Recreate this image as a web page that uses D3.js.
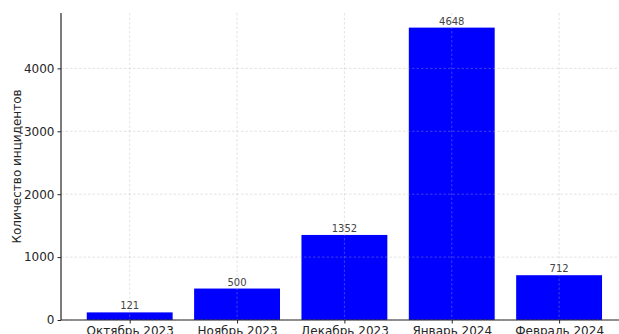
<!DOCTYPE html>
<html>
<head>
<meta charset="utf-8">
<style>
body { margin: 0; background: #fff; font-family: "DejaVu Sans", sans-serif; }
.axis text { fill: #262626; font-size: 12px; font-family: "DejaVu Sans", sans-serif; }
.axis .domain { stroke: #262626; stroke-width: 1.2; }
.axis .tick line { stroke: #262626; }
.grid line { stroke: #b0b0b0; stroke-opacity: 0.4; stroke-dasharray: 2.5,2; stroke-width: 0.9; }
.value { fill: #444; font-size: 10px; text-anchor: middle; }
</style>
<script src="https://d3js.org/d3.v7.min.js"></script>
</head>
<body>
<script>
var months = ["Октябрь 2023", "Ноябрь 2023", "Декабрь 2023", "Январь 2024", "Февраль 2024"];
var incidents = [121, 500, 1352, 4648, 712];
var yTicks = [0, 1000, 2000, 3000, 4000];

var W = 619, H = 334;
var plotLeft = 61, plotTop = 13, plotBottom = 320;

var svg = d3.select("body").append("svg")
    .attr("width", W)
    .attr("height", H);

// matplotlib-like limits: bars at 0..n-1, width 0.8, 5% margins
var n = months.length;
var xmin = -0.4 - 0.05 * (n - 0.2), xmax = n - 0.6 + 0.05 * (n - 0.2);
var x = d3.scaleLinear().domain([xmin, xmax]).range([plotLeft, 627.8]);
var ymax = d3.max(incidents) * 1.05;
var y = d3.scaleLinear().domain([0, ymax]).range([plotBottom, plotTop]);
var bw = x(0.8) - x(0);

svg.selectAll("rect.bar")
    .data(incidents)
  .enter().append("rect")
    .attr("class", "bar")
    .attr("x", function(d, i) { return x(i) - bw / 2; })
    .attr("y", function(d) { return y(d); })
    .attr("width", bw)
    .attr("height", function(d) { return y(0) - y(d); })
    .attr("fill", "#0000ff");

// grid on top of bars
var grid = svg.append("g").attr("class", "grid");
grid.selectAll("line.h")
    .data(yTicks)
  .enter().append("line")
    .attr("x1", plotLeft).attr("x2", W)
    .attr("y1", function(d) { return y(d); })
    .attr("y2", function(d) { return y(d); });
grid.selectAll("line.v")
    .data(months)
  .enter().append("line")
    .attr("y1", plotTop).attr("y2", plotBottom)
    .attr("x1", function(d, i) { return x(i); })
    .attr("x2", function(d, i) { return x(i); });

svg.selectAll("text.value")
    .data(incidents)
  .enter().append("text")
    .attr("class", "value")
    .attr("x", function(d, i) { return x(i); })
    .attr("y", function(d) { return y(d) - 3; })
    .text(function(d) { return d; });

var xAxis = d3.axisBottom(x)
    .tickValues(d3.range(n))
    .tickFormat(function(i) { return months[i]; })
    .tickSize(3.5)
    .tickPadding(3);
svg.append("g")
    .attr("class", "axis")
    .attr("transform", "translate(0," + plotBottom + ")")
    .call(xAxis)
    .call(function(g) { g.select(".domain").attr("d", "M" + plotLeft + ",0H" + W); });

var yAxis = d3.axisLeft(y)
    .tickValues(yTicks)
    .tickFormat(d3.format("d"))
    .tickSize(3.5)
    .tickPadding(3);
svg.append("g")
    .attr("class", "axis")
    .attr("transform", "translate(" + plotLeft + ",0)")
    .call(yAxis)
    .call(function(g) { g.select(".domain").attr("d", "M0," + plotTop + "V" + plotBottom); });

svg.append("text")
    .attr("transform", "translate(21," + ((plotTop + plotBottom) / 2) + ") rotate(-90)")
    .attr("text-anchor", "middle")
    .style("font-size", "12px")
    .style("fill", "#262626")
    .text("Количество инцидентов");
</script>
</body>
</html>
